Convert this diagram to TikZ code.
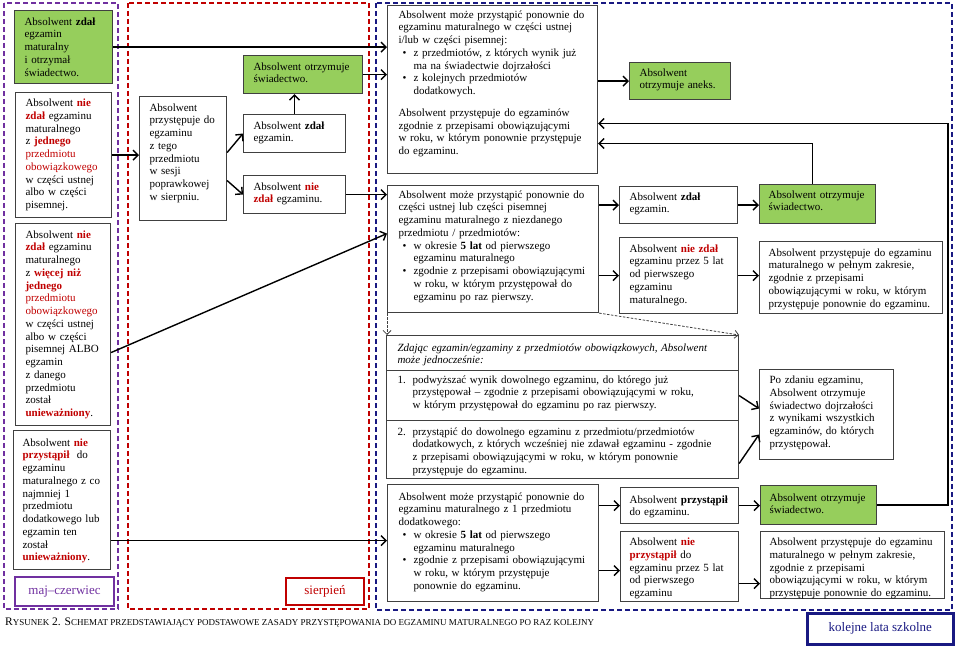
\documentclass[tikz,border=0pt]{standalone}
\usepackage{fontspec}
\setmainfont{Liberation Serif}
\usetikzlibrary{arrows.meta,calc}
\definecolor{myred}{RGB}{192,0,0}
\definecolor{mypurple}{RGB}{112,48,160}
\definecolor{mynavy}{RGB}{25,25,130}
\definecolor{mygreen}{RGB}{150,206,92}
\definecolor{boxline}{RGB}{64,64,64}
\newcommand\redb[1]{\textcolor{myred}{\textbf{#1}}}
\newcommand\redt[1]{\textcolor{myred}{#1}}
\newcommand\mybul{\makebox[15pt][l]{\hspace{4pt}\textbullet}}
\newcommand\myind{\hspace*{15pt}}
\newcommand\mynum[1]{\makebox[15pt][l]{#1}}
\newcommand\mysc[1]{{\fontsize{9}{11}\selectfont #1}}
\hyphenpenalty=10000
\exhyphenpenalty=10000
\begin{document}
\begin{tikzpicture}[x=1pt,y=-1pt,
  box/.style={draw=boxline, line width=1.1pt, anchor=north west, inner xsep=10pt, inner ysep=0pt, align=left, font=\fontsize{11}{12.75}\selectfont},
  gbox/.style={box, fill=mygreen},
  tag/.style={anchor=north west, line width=2pt, inner sep=0pt, font=\fontsize{13}{15}\selectfont},
  zone/.style={line width=1.6pt, dash pattern=on 5pt off 3pt},
  arr/.style={line width=1.4pt, -{Straight Barb[length=5pt,width=10pt]}},
  dconn/.style={line width=0.8pt, draw=boxline, dash pattern=on 2.5pt off 1.5pt, -{Straight Barb[length=4pt,width=8pt]}}
]
\useasboundingbox (0,0) rectangle (960,647);
% zones
\draw[zone, mypurple] (4,3) rectangle (118,609);
\draw[zone, myred] (128,3) rectangle (369,609);
\draw[zone, mynavy] (376,3) rectangle (952,610);

% left column
\node[gbox, text width=78pt, text height=14.5pt, text depth=58.5pt] (b1) at (14,10)
 {Absolwent \textbf{zdał}\\ egzamin\\ maturalny\\ i~otrzymał\\ świadectwo.};
\node[box, text width=76pt, text height=14pt, text depth=111pt] (b2) at (15,92)
 {Absolwent \redb{nie}\\ \redb{zdał} egzaminu\\ maturalnego\\ z \redb{jednego}\\ \redt{przedmiotu}\\ \redt{obowiązkowego}\\ w części ustnej\\ albo w części\\ pisemnej.};
\node[box, text width=75pt, text height=14.5pt, text depth=187.5pt] (b3) at (15,223)
 {Absolwent \redb{nie}\\ \redb{zdał} egzaminu\\ maturalnego\\ z \redb{więcej niż}\\ \redb{jednego}\\ \redt{przedmiotu}\\ \redt{obowiązkowego}\\ w części ustnej\\ albo w części\\ pisemnej ALBO\\ egzamin\\ z danego\\ przedmiotu\\ został\\ \redb{unieważniony}.};
\node[box, inner xsep=9pt, text width=79pt, text height=15.5pt, text depth=123.5pt] (b4) at (13,430)
 {Absolwent \redb{nie}\\ \redb{przystąpił}~ do\\ egzaminu\\ maturalnego z co\\ najmniej 1\\ przedmiotu\\ dodatkowego lub\\ egzamin ten\\ został\\ \redb{unieważniony}.};
\node[tag, draw=mypurple, text=mypurple, minimum width=99pt, minimum height=29pt] (b5) at (14,576) {maj–czerwiec};

% red zone
\node[box, text width=67pt, text height=14.5pt, text depth=109.5pt] (b6) at (139,96)
 {Absolwent\\ przystępuje do\\ egzaminu\\ z tego\\ przedmiotu\\ w sesji\\ poprawkowej\\ w sierpniu.};
\node[gbox, text width=99pt, text height=14.5pt, text depth=23.5pt] (b7) at (243,55)
 {Absolwent otrzymuje\\ świadectwo.};
\node[box, text width=82pt, text height=14.5pt, text depth=23.5pt] (b8) at (243,114)
 {Absolwent \textbf{zdał}\\ egzamin.};
\node[box, text width=82pt, text height=14.5pt, text depth=23.5pt] (b9) at (243,175)
 {Absolwent \redb{nie}\\ \redb{zdał} egzaminu.};
\node[tag, draw=myred, text=myred, minimum width=78pt, minimum height=27pt] (b10) at (285,577) {sierpień};

% blue zone, left column
\node[box, inner xsep=11pt, text width=188pt, text height=12.5pt, text depth=155.5pt] (b11) at (387,5)
 {Absolwent może przystąpić ponownie do\\
  egzaminu maturalnego w części ustnej\\
  i/lub w części pisemnej:\\
  \mybul z przedmiotów, z których wynik już\\
  \myind ma na świadectwie dojrzałości\\
  \mybul z kolejnych przedmiotów\\
  \myind dodatkowych.\\[9pt]
  Absolwent przystępuje do egzaminów\\
  zgodnie z przepisami obowiązującymi\\
  w roku, w którym ponownie przystępuje\\
  do egzaminu.};
\node[box, inner xsep=11pt, text width=189pt, text height=12.5pt, text depth=114.5pt] (b12) at (387,185)
 {Absolwent może przystąpić ponownie do\\
  części ustnej lub części pisemnej\\
  egzaminu maturalnego z niezdanego\\
  przedmiotu / przedmiotów:\\
  \mybul w okresie \textbf{5 lat} od pierwszego\\
  \myind egzaminu maturalnego\\
  \mybul zgodnie z przepisami obowiązującymi\\
  \myind w roku, w którym przystępował do\\
  \myind egzaminu po raz pierwszy.};
\node[box, inner xsep=11pt, text width=330pt, text height=15.5pt, text depth=19.5pt, font=\fontsize{11}{12}\selectfont\itshape] (b13a) at (386,335)
 {Zdając egzamin/egzaminy z przedmiotów obowiązkowych, Absolwent\\ może jednocześnie:};
\node[box, inner xsep=11pt, text width=330pt, text height=12.5pt, text depth=37.5pt] (b13b) at (386,370)
 {\mynum{1.}podwyższać wynik dowolnego egzaminu, do którego już\\
  \myind przystępował – zgodnie z przepisami obowiązującymi w roku,\\
  \myind w którym przystępował do egzaminu po raz pierwszy.};
\node[box, inner xsep=11pt, text width=330pt, text height=14.5pt, text depth=43.5pt] (b13c) at (386,420)
 {\mynum{2.}przystąpić do dowolnego egzaminu z przedmiotu/przedmiotów\\
  \myind dodatkowych, z których wcześniej nie zdawał egzaminu - zgodnie\\
  \myind z przepisami obowiązującymi w roku, w którym ponownie\\
  \myind przystępuje do egzaminu.};
\node[box, inner xsep=11pt, text width=189pt, text height=15.5pt, text depth=101.5pt] (b14) at (387,484)
 {Absolwent może przystąpić ponownie do\\
  egzaminu maturalnego z 1 przedmiotu\\
  dodatkowego:\\
  \mybul w okresie \textbf{5 lat} od pierwszego\\
  \myind egzaminu maturalnego\\
  \mybul zgodnie z przepisami obowiązującymi\\
  \myind w roku, w którym przystępuje\\
  \myind ponownie do egzaminu.};

% blue zone, right part
\node[gbox, text width=81pt, text height=13.5pt, text depth=23.5pt] (b15) at (629,62)
 {Absolwent\\ otrzymuje aneks.};
\node[box, text width=98pt, text height=13.5pt, text depth=23.5pt] (b16) at (619,186)
 {Absolwent \textbf{zdał}\\ egzamin.};
\node[gbox, inner xsep=9pt, text width=98pt, text height=13.5pt, text depth=25.5pt] (b17) at (759,184)
 {Absolwent otrzymuje\\ świadectwo.};
\node[box, text width=98pt, text height=14.5pt, text depth=61.5pt] (b18) at (619,237)
 {Absolwent \redb{nie zdał}\\ egzaminu przez 5 lat\\ od pierwszego\\ egzaminu\\ maturalnego.};
\node[box, inner xsep=9pt, text width=165pt, text height=14.5pt, text depth=57.5pt] (b19) at (759,241)
 {Absolwent przystępuje do egzaminu\\ maturalnego w pełnym zakresie,\\ zgodnie z przepisami\\ obowiązującymi w roku, w którym\\ przystępuje ponownie do egzaminu.};
\node[box, text width=114pt, text height=14pt, text depth=76pt] (b20) at (759,369)
 {Po zdaniu egzaminu,\\ Absolwent otrzymuje\\ świadectwo dojrzałości\\ z wynikami wszystkich\\ egzaminów, do których\\ przystępował.};
\node[box, inner xsep=9pt, text width=100pt, text height=15.5pt, text depth=20.5pt] (b21) at (620,487)
 {Absolwent \textbf{przystąpił}\\ do egzaminu.};
\node[box, inner xsep=9pt, text width=100pt, text height=14pt, text depth=56pt] (b22) at (620,531)
 {Absolwent \redb{nie}\\ \redb{przystąpił} do\\ egzaminu przez 5 lat\\ od pierwszego\\ egzaminu};
\node[gbox, inner xsep=9pt, text width=98pt, text height=15.5pt, text depth=23.5pt] (b24) at (760,485)
 {Absolwent otrzymuje\\ świadectwo.};
\node[box, inner xsep=9pt, text width=166pt, text height=14pt, text depth=53pt] (b23) at (760,531)
 {Absolwent przystępuje do egzaminu\\ maturalnego w pełnym zakresie,\\ zgodnie z przepisami\\ obowiązującymi w roku, w którym\\ przystępuje ponownie do egzaminu.};
\node[tag, draw=mynavy, line width=2.5pt, text=mynavy, minimum width=146pt, minimum height=31pt] (b25) at (806,612) {kolejne lata szkolne};

\node[anchor=base west, inner sep=0pt, font=\fontsize{11.5}{13}\selectfont] (cap) at (5,625)
 {R\mysc{YSUNEK} 2. S\mysc{CHEMAT PRZEDSTAWIAJĄCY PODSTAWOWE ZASADY PRZYSTĘPOWANIA DO EGZAMINU MATURALNEGO PO RAZ KOLEJNY}};

% connectors
\draw[arr] (b1.east) -- (b1.east -| b11.west);
\draw[arr] (b7.east) -- (b7.east -| b11.west);
\draw[arr] (b2.east) -- (b2.east -| b6.west);
\draw[arr] ([yshift=6pt]b6.east) -- (b8.west);
\draw[arr] ([yshift=-22pt]b6.east) -- (b9.west);
\draw[arr] (b8.north) -- (b8.north |- b7.south);
\draw[arr] (b9.east) -- (b9.east -| b12.west);
\draw[arr] ([yshift=-28pt]b3.east) -- ([yshift=15.5pt]b12.west);
\coordinate (s8) at ([yshift=-40.5pt]b4.east);
\draw[arr] (s8) -- (s8 -| b14.west);
\draw[arr] (b15.west -| b11.east) -- (b15.west);
\draw[arr] (b16.west -| b12.east) -- (b16.west);
\draw[arr] (b18.west -| b12.east) -- (b18.west);
\draw[arr] (b16.east) -- (b16.east -| b17.west);
\draw[arr] (b18.east) -- (b18.east -| b19.west);
\coordinate (t14) at ([yshift=-54pt]b11.east);
\draw[arr] ([xshift=-5pt]b17.north) |- (t14);
\coordinate (loop) at (948,0);
\coordinate (t15) at ([yshift=-34pt]b11.east);
\draw[arr] (b24.east) -- (b24.east -| loop) |- (t15);
\draw[dconn] (b12.south west) -- (b12.south west |- b13a.north);
\draw[dconn] (b12.south east) -- (b13a.north east);
\draw[arr] (b13b.east) -- ([yshift=6pt]b20.west);
\draw[arr] ([yshift=-14pt]b13c.east) -- ([yshift=-20pt]b20.west);
\draw[arr] (b21.west -| b14.east) -- (b21.west);
\coordinate (s21) at ([yshift=-4pt]b22.west);
\draw[arr] (s21 -| b14.east) -- (s21);
\draw[arr] (b21.east) -- (b21.east -| b24.west);
\coordinate (s23) at ([yshift=-17pt]b22.east);
\draw[arr] (s23) -- (s23 -| b23.west);
\end{tikzpicture}
\end{document}
